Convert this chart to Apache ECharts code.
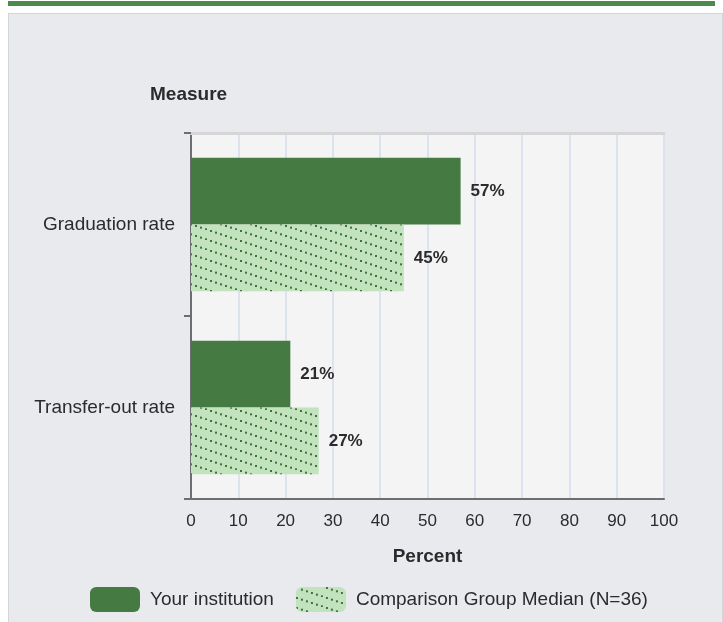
<!DOCTYPE html>
<html>
<head>
<meta charset="utf-8">
<script src="https://cdn.jsdelivr.net/npm/echarts@6/dist/echarts.min.js"></script>
<style>
  html, body { margin:0; padding:0; width:723px; height:622px; background:#ffffff; overflow:hidden; }
  #topbar { position:absolute; left:8px; top:1px; width:707px; height:5px; background:#4d8a4e; }
  #panel { position:absolute; left:8px; top:13px; width:713px; height:620px; background:#e9eaee; border:1px solid #d4d5d8; }
  #chart { position:absolute; left:0; top:0; width:723px; height:622px; }
</style>
</head>
<body>
<div id="topbar"></div>
<div id="panel"></div>
<div id="chart"></div>
<script>
const categories = ['Graduation rate', 'Transfer-out rate'];
const seriesNames = ['Your institution', 'Comparison Group Median (N=36)'];
const yourInstitution = [57, 21];
const comparisonMedian = [45, 27];
const xTicks = [0, 10, 20, 30, 40, 50, 60, 70, 80, 90, 100];

const FONT = '"Liberation Sans", Arial, sans-serif';
const DARK = '#467a43';
const TEXT = '#2b2b2b';

function makeHatch() {
  const c = document.createElement('canvas');
  c.width = 30; c.height = 10;
  const g = c.getContext('2d');
  g.fillStyle = '#c3e2be';
  g.fillRect(0, 0, 30, 10);
  g.fillStyle = '#3a763a';
  for (let x = 0; x < 30; x += 5) {
    const y = x / 3;
    g.fillRect(x, y, 2, 2);
  }
  return c;
}
const hatch = { image: makeHatch(), repeat: 'repeat' };

const chart = echarts.init(document.getElementById('chart'), null, { renderer: 'canvas' });
chart.setOption({
  backgroundColor: 'transparent',
  animation: false,
  textStyle: { fontFamily: FONT },
  grid: { left: 191, right: 59, top: 133, bottom: 123, show: true, backgroundColor: '#f4f4f4', borderWidth: 0 },
  graphic: [{
    type: 'text', left: 150, top: 85,
    style: { text: 'Measure', font: 'bold 19px ' + FONT, fill: TEXT }
  }],
  legend: {
    left: 85, top: 582,
    itemWidth: 50, itemHeight: 25, itemGap: 22,
    icon: 'roundRect',
    textStyle: { fontFamily: FONT, fontSize: 19, color: TEXT, padding: [0, 0, 0, 5] },
    data: seriesNames
  },
  xAxis: [{
    type: 'value', min: 0, max: 100, interval: 10,
    name: 'Percent', nameLocation: 'middle', nameGap: 48,
    nameTextStyle: { fontFamily: FONT, fontSize: 19, fontWeight: 'bold', color: TEXT },
    axisLine: { show: true, lineStyle: { color: '#6e6e6e', width: 2 } },
    axisTick: { show: false },
    axisLabel: { fontFamily: FONT, fontSize: 17, color: TEXT, margin: 14,
      formatter: function (v) { return xTicks.indexOf(v) >= 0 ? String(v) : ''; } },
    splitLine: { show: true, lineStyle: { color: '#dde3ee', width: 2 } }
  }, {
    type: 'value', min: 0, max: 100, position: 'top',
    axisLine: { show: true, lineStyle: { color: '#d6d6d6', width: 3 } },
    axisTick: { show: false }, axisLabel: { show: false }, splitLine: { show: false }
  }],
  yAxis: {
    type: 'category', inverse: true, data: categories,
    axisLine: { show: true, lineStyle: { color: '#6e6e6e', width: 2 } },
    axisTick: { show: true, length: 7, lineStyle: { color: '#6e6e6e', width: 2 } },
    axisLabel: { fontFamily: FONT, fontSize: 19, color: TEXT, margin: 16 }
  },
  series: [{
    name: seriesNames[0], type: 'bar', data: yourInstitution,
    barGap: '0%', barCategoryGap: '27%',
    itemStyle: { color: DARK },
    label: { show: true, position: 'right', distance: 10, formatter: '{c}%',
      fontFamily: FONT, fontSize: 17, fontWeight: 'bold', color: TEXT }
  }, {
    name: seriesNames[1], type: 'bar', data: comparisonMedian,
    barGap: '0%', barCategoryGap: '27%',
    itemStyle: { color: hatch },
    label: { show: true, position: 'right', distance: 10, formatter: '{c}%',
      fontFamily: FONT, fontSize: 17, fontWeight: 'bold', color: TEXT }
  }]
});
</script>
</body>
</html>
